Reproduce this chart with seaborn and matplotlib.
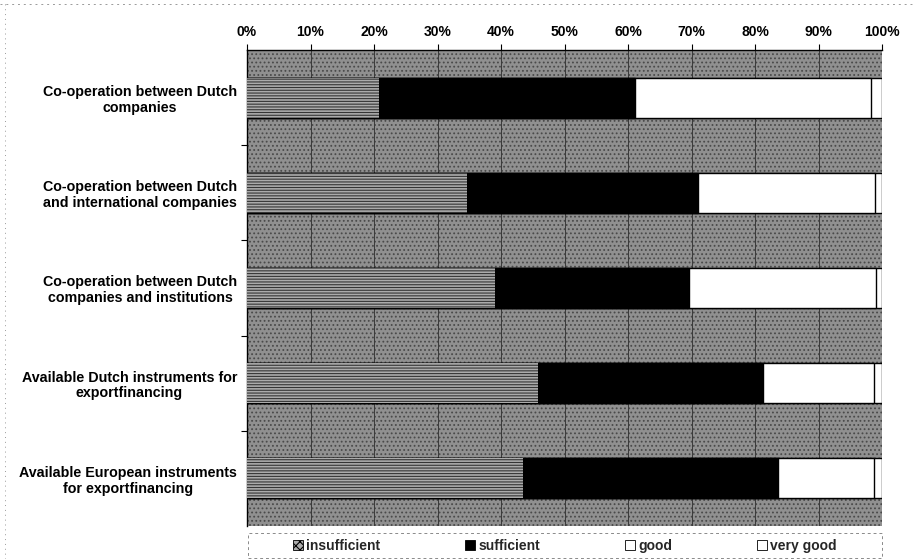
import matplotlib
matplotlib.use("Agg")
import matplotlib.pyplot as plt
from matplotlib.patches import Patch, Rectangle
from matplotlib.lines import Line2D
import seaborn as sns
import pandas as pd
import numpy as np

# Survey categories (top to bottom)
categories = [
    "Co-operation between Dutch\ncompanies",
    "Co-operation between Dutch\nand international companies",
    "Co-operation between Dutch\ncompanies and institutions",
    "Available Dutch instruments for\nexportfinancing",
    "Available European instruments\nfor exportfinancing",
]

# Share of answers per rating (%)
insufficient = [20.8, 34.7, 39.1, 45.8, 43.5]
sufficient = [40.3, 36.3, 30.5, 35.4, 40.1]
good = [37.2, 27.9, 29.5, 17.5, 15.1]
very_good = [1.7, 1.1, 0.9, 1.3, 1.3]

tick_labels = ["0%", "10%", "20%", "30%", "40%", "50%", "60%", "70%", "80%", "90%", "100%"]
legend_labels = ["insufficient", "sufficient", "good", "very good"]

sns.set_theme(style="white")
plt.rcParams["font.family"] = ["Liberation Sans", "DejaVu Sans"]
plt.rcParams["hatch.linewidth"] = 0.8

df = pd.DataFrame({
    "category": categories,
    "insufficient": insufficient,
    "sufficient": sufficient,
    "good": good,
    "very_good": very_good,
})
df["c1"] = df["insufficient"]
df["c2"] = df["c1"] + df["sufficient"]
df["c3"] = df["c2"] + df["good"]
df["c4"] = df["c3"] + df["very_good"]

fig = plt.figure(figsize=(9.13, 5.59), dpi=100)
ax = fig.add_axes([247 / 913, 1 - 526 / 559, 635 / 913, 476 / 559])

# textured grey plot area
ax.patch.set_facecolor("#909090")
ax.patch.set_hatch("....")
ax.patch.set_edgecolor("#4a4a4a")
ax.patch.set_linewidth(0)

for xv in range(10, 100, 10):
    ax.axvline(xv, color="#3a3a3a", lw=0.7, zorder=0.5)

bar_w = 0.42
# cumulative bars drawn from the longest to the shortest
sns.barplot(data=df, y="category", x="c4", orient="h", color="white",
            edgecolor="black", linewidth=1.0, width=bar_w, errorbar=None,
            ax=ax, zorder=2)
sns.barplot(data=df, y="category", x="c3", orient="h", color="white",
            edgecolor="black", linewidth=1.0, width=bar_w, errorbar=None,
            ax=ax, zorder=3)
sns.barplot(data=df, y="category", x="c2", orient="h", color="black",
            edgecolor="black", linewidth=1.0, width=bar_w, errorbar=None,
            ax=ax, zorder=4)
sns.barplot(data=df, y="category", x="c1", orient="h", color="#ababab",
            edgecolor="#353535", linewidth=0, width=bar_w, errorbar=None,
            hatch="------", ax=ax, zorder=5)

ax.set_xlim(0, 100)
ax.set_ylim(len(categories) - 0.5, -0.5)
ax.set_xlabel("")
ax.set_ylabel("")

ax.xaxis.tick_top()
ax.set_xticks(np.arange(0, 101, 10))
ax.set_xticklabels(tick_labels, fontsize=10, fontweight="bold", color="black")
ax.tick_params(axis="x", top=True, bottom=False, direction="out", length=4,
               width=0.8, color="black", pad=4)

ax.set_yticks(range(len(categories)))
ax.set_yticklabels(categories, fontsize=10.3, fontweight="bold", color="black")
for t in ax.get_yticklabels():
    t.set_multialignment("center")
    t.set_linespacing(1.15)
ax.tick_params(axis="y", which="major", left=False, length=0, pad=7)
ax.set_yticks(np.arange(0.5, len(categories) - 0.5, 1), minor=True)
ax.tick_params(axis="y", which="minor", left=True, direction="out", length=4,
               width=0.8, color="black")

for side in ["right", "bottom"]:
    ax.spines[side].set_visible(False)
for side in ["top", "left"]:
    ax.spines[side].set_visible(True)
    ax.spines[side].set_color("black")
    ax.spines[side].set_linewidth(1.0)

# legend below the plot, inside a dashed box spanning the plot width
handles = [
    Patch(facecolor="#ababab", edgecolor="black", hatch="xxxx", linewidth=0.6),
    Patch(facecolor="black", edgecolor="black", linewidth=0.6),
    Patch(facecolor="white", edgecolor="black", linewidth=0.6),
    Patch(facecolor="white", edgecolor="black", linewidth=0.6),
]
leg = fig.legend(handles, legend_labels, loc="center",
                 bbox_to_anchor=(565 / 913, 1 - 546 / 559),
                 ncol=4, frameon=False,
                 handlelength=0.7, handleheight=0.7, handletextpad=0.25,
                 columnspacing=6.1, borderpad=0.0,
                 prop={"family": "Liberation Sans", "weight": "bold", "size": 10})
fig.add_artist(Rectangle((248 / 913, 1 - 558 / 559), 634 / 913, 25 / 559,
                         transform=fig.transFigure, fill=False,
                         edgecolor="#8a8a8a", lw=0.7, ls=(0, (3, 3))))

# faint dotted page border
fig.add_artist(Line2D([5 / 913, 5 / 913], [0, 1], transform=fig.transFigure,
                      color="#9a9a9a", lw=0.7, ls=(0, (1, 4))))
fig.add_artist(Line2D([0, 1], [1 - 4 / 559, 1 - 4 / 559], transform=fig.transFigure,
                      color="#9a9a9a", lw=0.7, ls=(0, (2, 4))))

fig.savefig("out.png", dpi=100)
